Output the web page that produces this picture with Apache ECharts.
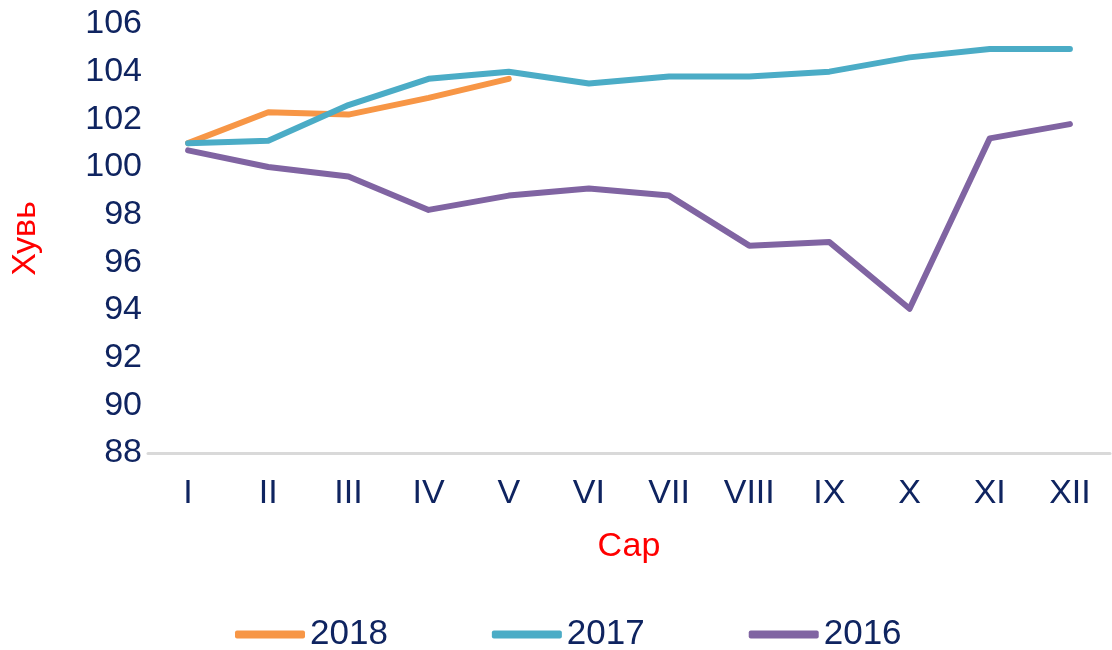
<!DOCTYPE html>
<html>
<head>
<meta charset="utf-8">
<script src="https://cdn.jsdelivr.net/npm/echarts@6/dist/echarts.min.js"></script>
<style>
  html, body { margin: 0; padding: 0; background: #fff; }
  #chart { width: 1112px; height: 650px; }
</style>
</head>
<body>
<div id="chart"></div>
<script>
  // months (roman numerals)
  var months = ['I', 'II', 'III', 'IV', 'V', 'VI', 'VII', 'VIII', 'IX', 'X', 'XI', 'XII'];
  var values2018 = [101.0, 102.3, 102.2, 102.9, 103.7];
  var values2017 = [101.0, 101.1, 102.6, 103.7, 104.0, 103.5, 103.8, 103.8, 104.0, 104.6, 104.95, 104.95];
  var values2016 = [100.7, 100.0, 99.6, 98.2, 98.8, 99.1, 98.8, 96.7, 96.85, 94.05, 101.2, 101.8];

  var textColor = '#0f2460';
  var fontName = "'Liberation Sans', Arial, sans-serif";

  var chart = echarts.init(document.getElementById('chart'));

  function lineSeries(name, data, color) {
    return {
      name: name,
      type: 'line',
      data: data,
      symbol: 'none',
      lineStyle: { color: color, width: 6, cap: 'round', join: 'round' },
      itemStyle: { color: color }
    };
  }

  chart.setOption({
    animation: false,
    textStyle: { fontFamily: fontName },
    grid: { left: 148, right: 2, top: 24, bottom: 197 },
    legend: {
      top: 612,
      left: 230,
      icon: 'roundRect',
      itemWidth: 70,
      itemHeight: 8,
      itemGap: 104,
      textStyle: { color: textColor, fontSize: 35, fontFamily: fontName },
      data: ['2018', '2017', '2016']
    },
    xAxis: {
      type: 'category',
      data: months,
      boundaryGap: true,
      name: 'Сар',
      nameLocation: 'middle',
      nameGap: 77,
      nameTextStyle: { color: '#ff0000', fontSize: 34, fontFamily: fontName },
      axisLine: { lineStyle: { color: '#d9d9d9', width: 3 } },
      axisTick: { show: false },
      axisLabel: { color: textColor, fontSize: 34, margin: 24, fontFamily: fontName }
    },
    yAxis: {
      type: 'value',
      min: 88,
      max: 106,
      interval: 2,
      name: 'Хувь',
      nameLocation: 'middle',
      nameGap: 105,
      nameRotate: 90,
      nameTextStyle: { color: '#ff0000', fontSize: 34, fontFamily: fontName },
      axisLine: { show: false },
      axisTick: { show: false },
      splitLine: { show: false },
      axisLabel: { color: textColor, fontSize: 34, margin: 6, fontFamily: fontName }
    },
    series: [
      lineSeries('2018', values2018, '#f79646'),
      lineSeries('2017', values2017, '#4bacc6'),
      lineSeries('2016', values2016, '#8064a2')
    ]
  });
</script>
</body>
</html>
